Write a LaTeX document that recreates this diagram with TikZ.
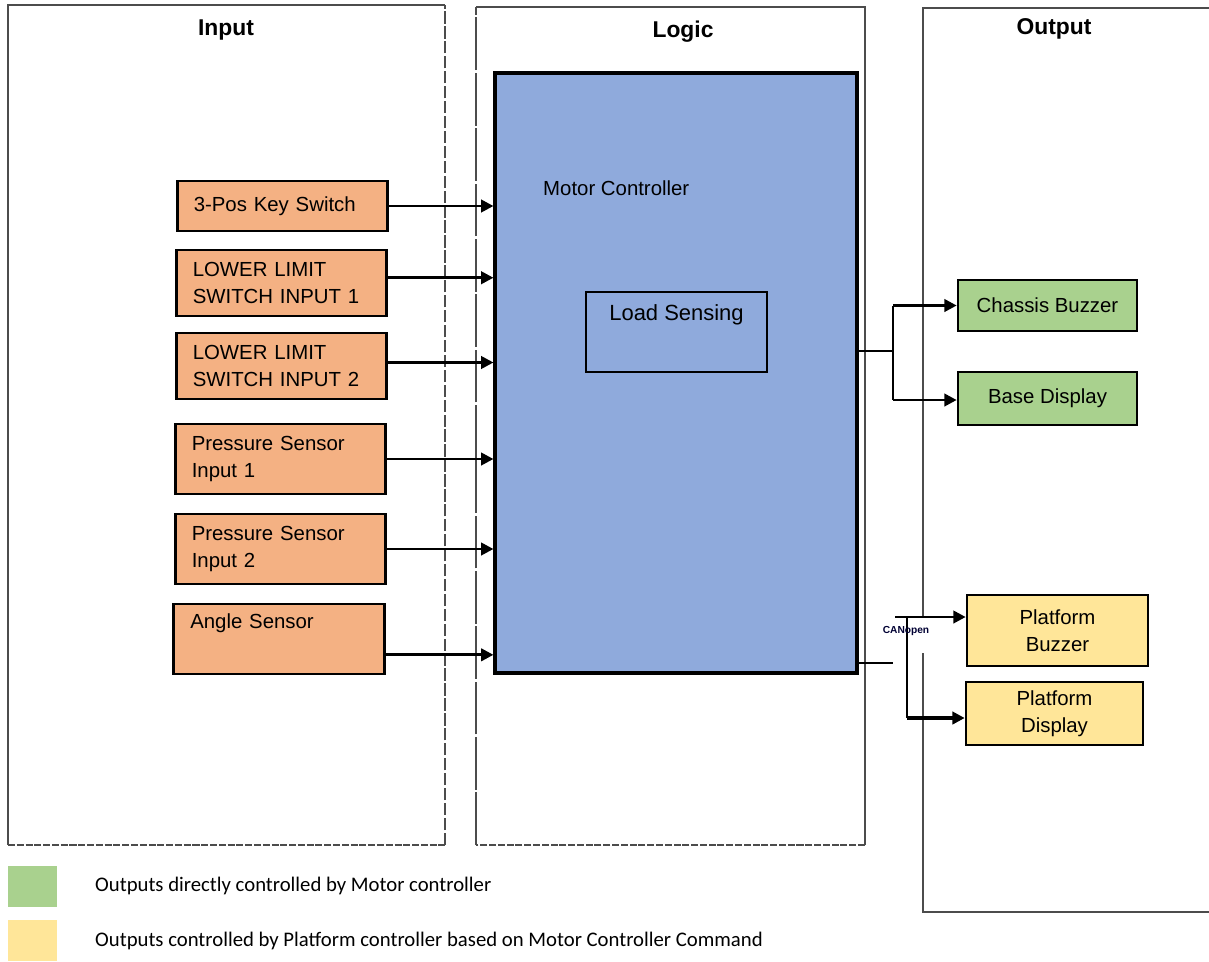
\documentclass[tikz,border=0pt]{standalone}
\usepackage{fontspec}
\setmainfont{Liberation Sans}
\newfontfamily\legendfont{Carlito}
\usetikzlibrary{arrows.meta}
\definecolor{inorange}{HTML}{F4B183}
\definecolor{mcblue}{HTML}{8FAADC}
\definecolor{outgreen}{HTML}{A9D18E}
\definecolor{outyellow}{HTML}{FFE699}
\tikzset{
  boxfont/.style = {font=\fontsize{11.6}{15.3}\selectfont},
  title/.style = {font=\fontsize{13}{15}\selectfont\bfseries},
  panel/.style = {draw=black!70, line width=1pt},
  in_box/.style = {boxfont, draw=black, line width=1.5pt, fill=inorange, align=left, text width=3.55cm, inner xsep=0.33cm, inner ysep=0pt},
  out_box/.style = {boxfont, draw=black, line width=1.5pt, align=center, inner sep=0pt},
  out_g/.style = {out_box, fill=outgreen},
  out_y/.style = {out_box, fill=outyellow},
  legend_sq/.style = {inner sep=0pt, minimum width=0.98cm, minimum height=0.82cm},
  legend_txt/.style = {anchor=west, font=\legendfont\fontsize{11.8}{14}\selectfont},
  arr/.style = {-{Triangle[length=7pt,width=7pt]}, line width=1.6pt},
  thin_line/.style = {line width=0.6pt}
}

\begin{document}
\begin{tikzpicture}[x=0.02cm,y=-0.02cm]
\useasboundingbox (0,0) rectangle (1209,961);

% panels
\draw[panel] (445,5) -- (8,5) -- (8,845);
\draw[panel,dash pattern=on 4pt off 1pt] (8,845) -- (445,845);
\draw[panel,dash pattern=on 7pt off 1.5pt] (445,845) -- (445,5);
\draw[panel,dash pattern=on 30pt off 1.5pt] (476,845) -- (476,7);
\draw[panel] (476,7) -- (865,7) -- (865,845);
\draw[panel,dash pattern=on 4pt off 1pt] (865,845) -- (476,845);
\draw[panel] (923,616) -- (923,8) -- (1215,8);
\draw[panel] (923,653) -- (923,912) -- (1215,912);

\node[title] (t_in) at (226,30) {Input};
\node[title] (t_logic) at (683,32) {Logic};
\node[title] (t_out) at (1054,29) {Output};

% logic
\node[draw, line width=1.8pt, fill=mcblue, minimum width=7.24cm, minimum height=12cm, inner sep=0pt] (mc) at (676,373) {};
\node[boxfont, anchor=west] (mc_lbl) at (537,188) {Motor Controller};
\node[draw, line width=0.8pt, minimum width=3.62cm, minimum height=1.6cm, inner sep=0pt,
  label={[font=\fontsize{12.5}{15}\selectfont, anchor=north, yshift=-4pt]north:Load Sensing}] (ls) at (676.5,332) {};

% inputs
\node[in_box, minimum height=1cm] (key) at (282.5,206) {3-Pos Key Switch};
\node[in_box, minimum height=1.32cm] (ll1) at (281.5,283) {LOWER LIMIT\\SWITCH INPUT 1};
\node[in_box, minimum height=1.32cm] (ll2) at (281.5,366) {LOWER LIMIT\\SWITCH INPUT 2};
\node[in_box, minimum height=1.4cm] (ps1) at (280.5,459) {Pressure Sensor\\Input 1};
\node[in_box, minimum height=1.4cm] (ps2) at (280.5,549) {Pressure Sensor\\Input 2};
\node[in_box, minimum height=1.4cm] (ang) at (279,639) {Angle Sensor\\\strut};

\path ([yshift=3pt]ll1.east) coordinate (ll1_out);
\path ([yshift=2pt]ll2.east) coordinate (ll2_out);
\path ([yshift=-9pt]ang.east) coordinate (ang_out);
\draw[arr] (key.east) -- (key.east -| mc.west);
\draw[arr] (ll1_out) -- (ll1_out -| mc.west);
\draw[arr] (ll2_out) -- (ll2_out -| mc.west);
\draw[arr] (ps1.east) -- (ps1.east -| mc.west);
\draw[arr] (ps2.east) -- (ps2.east -| mc.west);
\draw[arr] (ang_out) -- (ang_out -| mc.west);

% outputs
\node[out_g, minimum width=3.58cm, minimum height=1.02cm] (cb) at (1047.5,305.5) {Chassis Buzzer};
\node[out_g, minimum width=3.58cm, minimum height=1.06cm] (bd) at (1047.5,398.5) {Base Display};
\node[out_y, minimum width=3.62cm, minimum height=1.42cm] (pb) at (1057.5,630.5) {Platform\\Buzzer};
\node[out_y, minimum width=3.54cm, minimum height=1.26cm] (pd) at (1054.5,713.5) {Platform\\Display};

\coordinate (split_a) at (893,351);
\coordinate (j1) at (893,305.5);
\coordinate (j2) at (893,400);
\draw[thin_line] (mc.east |- split_a) -- (split_a);
\draw[thin_line] (j1) -- (j2);
\draw[arr] (j1) -- (cb.west);
\draw[arr] (j2) -- (j2 -| bd.west);

\coordinate (can_a) at (893,663);
\coordinate (can_b) at (895,617);
\coordinate (can_c) at (907,617);
\coordinate (can_d) at (907,718);
\draw[thin_line] (mc.east |- can_a) -- (can_a);
\draw[arr] (can_b) -- (can_b -| pb.west);
\draw[thin_line] (can_c) -- (can_d);
\draw[arr, line width=2.2pt] (can_d) -- (can_d -| pd.west);
\node[font=\fontsize{5.8}{7}\selectfont\bfseries, text=black!80!blue, inner sep=0pt] (can_lbl) at (906,631) {CANopen};

% legend
\node[legend_sq, fill=outgreen] (lg_g) at (32.5,886.5) {};
\node[legend_sq, fill=outyellow] (lg_y) at (32.5,940.5) {};
\node[legend_txt] (lg_g_txt) at (89,886) {Outputs directly controlled by Motor controller};
\node[legend_txt] (lg_y_txt) at (89,941) {Outputs controlled by Platform controller based on Motor Controller Command};
\end{tikzpicture}
\end{document}
